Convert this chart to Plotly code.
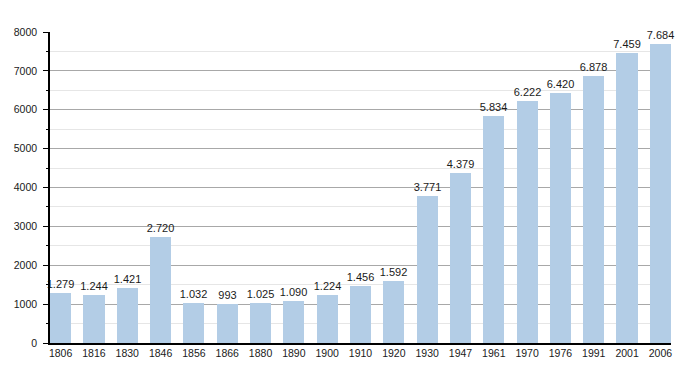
import plotly.graph_objects as go

years = ["1806", "1816", "1830", "1846", "1856", "1866", "1880", "1890", "1900", "1910",
         "1920", "1930", "1947", "1961", "1970", "1976", "1991", "2001", "2006"]
population = [1279, 1244, 1421, 2720, 1032, 993, 1025, 1090, 1224, 1456,
              1592, 3771, 4379, 5834, 6222, 6420, 6878, 7459, 7684]
y_ticks = [0, 1000, 2000, 3000, 4000, 5000, 6000, 7000, 8000]

x_pos = list(range(len(years)))
bar_w = 0.636

fig = go.Figure(go.Bar(
    x=x_pos, y=population, width=bar_w,
    marker=dict(color="#b3cde6", line=dict(width=0)),
    texttemplate="%{y:,}", textposition="outside",
    constraintext="none",
    textfont=dict(family="Liberation Sans, Arial, sans-serif", size=11, color="#1a1a1a"),
    cliponaxis=False,
))

# page body has an 8px default margin, so margins are offset to compensate
fig.update_layout(
    width=700, height=373,
    margin=dict(l=42, r=37, t=24, b=38),
    plot_bgcolor="white", paper_bgcolor="white",
    separators=",.",
    showlegend=False,
    bargap=0,
    font=dict(family="Liberation Sans, Arial, sans-serif", size=11, color="#1a1a1a"),
)
fig.update_xaxes(
    tickmode="array", tickvals=x_pos, ticktext=years,
    range=[-bar_w / 2, len(years) - 1 + bar_w / 2],
    showline=True, linecolor="black", linewidth=1.5,
    showgrid=False, ticks="", ticklen=0,
    automargin=False,
    tickfont=dict(size=10.5, color="#1a1a1a"),
)
fig.update_yaxes(
    range=[0, 8000], tickvals=y_ticks,
    showline=True, linecolor="black", linewidth=1.5,
    showgrid=True, gridcolor="#a8a8a8", gridwidth=1,
    ticks="outside", ticklen=5, tickcolor="black",
    ticklabelstandoff=4,
    zeroline=False, automargin=False,
    minor=dict(dtick=500, showgrid=True, gridcolor="#e6e6e6", ticks="outside", ticklen=2, tickcolor="black"),
    tickfont=dict(size=10.5, color="#1a1a1a"),
)

fig.write_html("out.html")
